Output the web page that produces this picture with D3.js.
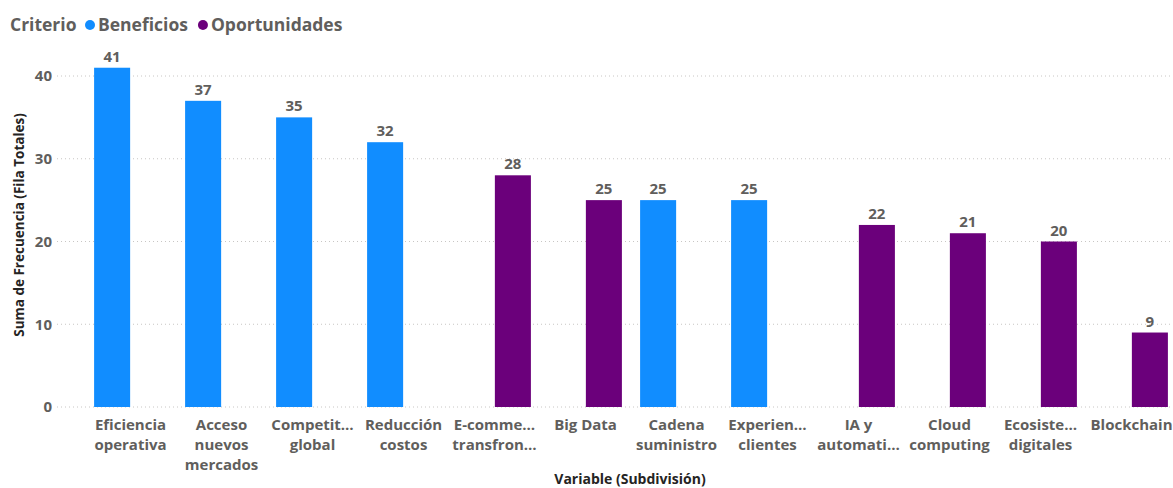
<!DOCTYPE html>
<html><head><meta charset="utf-8">
<script src="https://cdn.jsdelivr.net/npm/d3@7"></script>
<style>
body{margin:0;background:#fff;}
text{font-family:"Segoe UI","Open Sans","Noto Sans",sans-serif;}
</style></head>
<body>
<svg id="c" width="1173" height="488"></svg>
<script>
const categories = ["Eficiencia operativa","Acceso nuevos mercados","Competit… global","Reducción costos","E-comme… transfron…","Big Data","Cadena suministro","Experien… clientes","IA y automati…","Cloud computing","Ecosiste… digitales","Blockchain"];
const tickLines = [["Eficiencia","operativa"],["Acceso","nuevos","mercados"],["Competit…","global"],["Reducción","costos"],["E-comme…","transfron…"],["Big Data"],["Cadena","suministro"],["Experien…","clientes"],["IA y","automati…"],["Cloud","computing"],["Ecosiste…","digitales"],["Blockchain"]];
const criterio = ["Beneficios","Beneficios","Beneficios","Beneficios","Oportunidades","Oportunidades","Beneficios","Beneficios","Oportunidades","Oportunidades","Oportunidades","Oportunidades"];
const values = [41,37,35,32,28,25,25,25,22,21,20,9];
const seriesNames = ["Beneficios","Oportunidades"];
const seriesColors = ["#118DFF","#6B007B"];
const yTicks = [0,10,20,30,40];

const svg = d3.select("#c");
const x0 = d3.scaleBand().domain(categories).range([85,1177]).paddingInner(0.2).paddingOuter(0.1);
const x1 = d3.scaleBand().domain(seriesNames).range([0,x0.bandwidth()]).paddingInner(0.02);
const y = d3.scaleLinear().domain([0,40]).range([407,76]);
const color = d3.scaleOrdinal().domain(seriesNames).range(seriesColors);

// gridlines
svg.append("g").selectAll("line").data(yTicks).join("line")
  .attr("x1",57).attr("x2",1173).attr("y1",d=>y(d)).attr("y2",d=>y(d))
  .attr("stroke","#c8c6c4").attr("stroke-width",1).attr("stroke-dasharray","1,3");

// y axis labels
const yAxis = svg.append("g").attr("transform","translate(52,0)")
  .call(d3.axisLeft(y).tickValues(yTicks).tickSize(0).tickPadding(0));
yAxis.select(".domain").remove();
yAxis.selectAll("text").attr("fill","#605E5C").style("font-size","15px").style("font-weight","700")
  .style("font-family",'"Segoe UI","Open Sans",sans-serif');

// bars
const data = categories.map((c,i)=>({c, s:criterio[i], v:values[i]}));
svg.append("g").selectAll("rect").data(data).join("rect")
  .attr("x",d=>x0(d.c)+x1(d.s)).attr("width",x1.bandwidth())
  .attr("y",d=>y(d.v)).attr("height",d=>y(0)-y(d.v))
  .attr("fill",d=>color(d.s));

// data labels
svg.append("g").selectAll("text").data(data).join("text")
  .attr("x",d=>x0(d.c)+x1(d.s)+x1.bandwidth()/2).attr("y",d=>y(d.v)-6)
  .attr("text-anchor","middle").attr("fill","#605E5C")
  .style("font-size","15px").style("font-weight","700").text(d=>d.v);

// x axis labels
const xAxis = svg.append("g").attr("transform","translate(0,407)")
  .call(d3.axisBottom(x0).tickSize(0).tickFormat(""));
xAxis.select(".domain").remove();
xAxis.selectAll(".tick").each(function(d,i){
  const t = d3.select(this).append("text").attr("text-anchor","middle").attr("fill","#605E5C")
    .style("font-size","15px").style("font-weight","700");
  tickLines[i].forEach((ln,j)=>{
    t.append("tspan").attr("x",0).attr("y",23+j*20).text(ln);
  });
});

// axis titles
svg.append("text").attr("transform","translate(24,225) rotate(-90)").attr("text-anchor","middle")
  .attr("fill","#252423").style("font-size","13.5px").style("font-weight","700")
  .text("Suma de Frecuencia (Fila Totales)");
svg.append("text").attr("x",630).attr("y",484).attr("text-anchor","middle")
  .attr("fill","#252423").style("font-size","14px").style("font-weight","700")
  .text("Variable (Subdivisión)");

// legend
const lg = svg.append("g");
lg.append("text").attr("x",10).attr("y",31).attr("fill","#605E5C")
  .style("font-size","17.5px").style("font-weight","700").text("Criterio");
let lx = 85;
seriesNames.forEach((s,i)=>{
  lg.append("circle").attr("cx",lx+5).attr("cy",25).attr("r",5).attr("fill",seriesColors[i]);
  const t = lg.append("text").attr("x",lx+13).attr("y",31).attr("fill","#605E5C")
    .style("font-size","17.5px").style("font-weight","700").text(s);
  lx += 13 + t.node().getComputedTextLength() + 10;
});
</script>
</body></html>
